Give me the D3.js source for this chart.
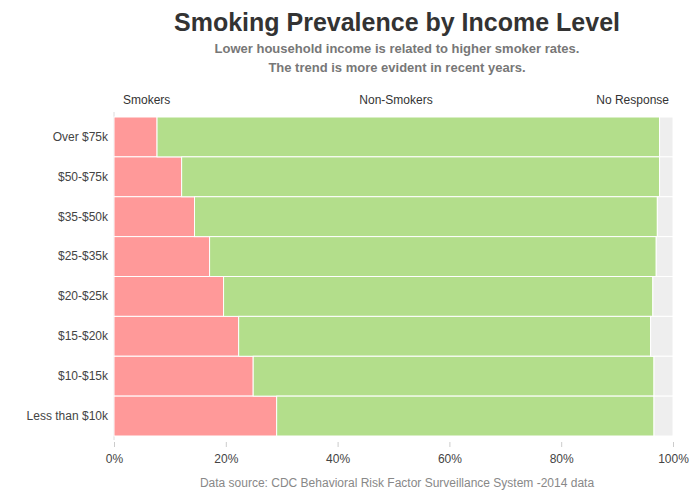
<!DOCTYPE html>
<html>
<head>
<meta charset="utf-8">
<script src="https://cdn.jsdelivr.net/npm/d3@7"></script>
<style>
    body { margin: 0; background: #fff; }
    text { font-family: Arial, "Liberation Sans", sans-serif; }
</style>
</head>
<body>
<div id="graph"></div>
<script>
// Income groups, top to bottom
var incomeGroups = [ 'Over $75k', '$50-$75k', '$35-$50k', '$25-$35k',
                     '$20-$25k', '$15-$20k', '$10-$15k', 'Less than $10k' ];

// Percentages
var smokers     = [ 7.7, 12.1, 14.4, 17.1, 19.6, 22.3, 24.9, 29.1 ];
var nonSmokers  = [ 89.9, 85.5, 82.8, 79.9, 76.8, 73.7, 71.7, 67.5 ];
var noResponse  = [ 2.4, 2.4, 2.8, 3.0, 3.6, 4.0, 3.4, 3.4 ];

var seriesNames  = [ 'Smokers', 'Non-Smokers', 'No Response' ];
var seriesColors = [ '#ff9999', '#b3de8b', '#eeeeee' ];
var xTicks       = [ 0, 20, 40, 60, 80, 100 ];

function D3App ()
{
    var width  = 700;
    var height = 500;
    var margin = { top: 117, right: 27, bottom: 64, left: 114 };
    var innerW = width  - margin.left - margin.right;
    var innerH = height - margin.top  - margin.bottom;

    var svg = d3.select ('#graph')
                .append ('svg')
                .attr ('width', width)
                .attr ('height', height);

    var g = svg.append ('g')
               .attr ('transform', 'translate(' + margin.left + ',' + margin.top + ')');

    var xScale = d3.scaleLinear ()
                   .domain ([ 0, 100 ])
                   .range ([ 0, innerW ]);

    var yScale = d3.scaleBand ()
                   .domain (incomeGroups)
                   .range ([ 0, innerH ])
                   .padding (0);

    // Build stacked rows
    var rows = incomeGroups.map (function (grp, i)
    {
        return { group: grp, 'Smokers': smokers[i], 'Non-Smokers': nonSmokers[i], 'No Response': noResponse[i] };
    });

    var stack = d3.stack ().keys (seriesNames) (rows);

    // left axis line
    g.append ('line')
     .attr ('x1', 0).attr ('x2', 0)
     .attr ('y1', -5).attr ('y2', innerH + 4)
     .style ('stroke', '#dcdcdc')
     .style ('stroke-width', 1);

    g.selectAll ('.series')
     .data (stack)
     .enter ()
     .append ('g')
     .attr ('class', 'series')
     .style ('fill', function (d, i) { return seriesColors[i]; })
     .selectAll ('rect')
     .data (function (d) { return d; })
     .enter ()
     .append ('rect')
     .attr ('x', function (d) { return xScale (d[0]); })
     .attr ('y', function (d) { return yScale (d.data.group); })
     .attr ('width', function (d) { return xScale (d[1]) - xScale (d[0]); })
     .attr ('height', yScale.bandwidth ())
     .style ('stroke', '#fff')
     .style ('stroke-width', 1);

    // X axis
    var xAxis = d3.axisBottom (xScale)
                  .tickValues (xTicks)
                  .tickSize (5)
                  .tickFormat (function (d) { return d + '%'; });

    var xg = g.append ('g')
              .attr ('transform', 'translate(0,' + (innerH + 6) + ')')
              .call (xAxis);
    xg.select ('.domain').remove ();
    xg.selectAll ('line').style ('stroke', '#cccccc');
    xg.selectAll ('text')
      .attr ('dy', '1.05em')
      .style ('font-size', '12px')
      .style ('fill', '#444');

    // Y axis labels
    var yAxis = d3.axisLeft (yScale).tickSize (0).tickPadding (6);
    var yg = g.append ('g').call (yAxis);
    yg.select ('.domain').remove ();
    yg.selectAll ('text')
      .style ('font-size', '12px')
      .style ('fill', '#444');

    // Column headers
    var headerY = margin.top - 13;
    svg.append ('text').attr ('x', 123).attr ('y', headerY)
       .style ('font-size', '12px').style ('fill', '#333')
       .text (seriesNames[0]);
    svg.append ('text').attr ('x', 396).attr ('y', headerY)
       .attr ('text-anchor', 'middle')
       .style ('font-size', '12px').style ('fill', '#333')
       .text (seriesNames[1]);
    svg.append ('text').attr ('x', 669).attr ('y', headerY)
       .attr ('text-anchor', 'end')
       .style ('font-size', '12px').style ('fill', '#333')
       .text (seriesNames[2]);

    // Titles
    svg.append ('text').attr ('x', 397).attr ('y', 31)
       .attr ('text-anchor', 'middle')
       .style ('font-size', '25px').style ('font-weight', 'bold').style ('fill', '#333')
       .text ('Smoking Prevalence by Income Level');

    svg.append ('text').attr ('x', 397).attr ('y', 53)
       .attr ('text-anchor', 'middle')
       .style ('font-size', '13px').style ('font-weight', 'bold').style ('fill', '#777')
       .text ('Lower household income is related to higher smoker rates.');

    svg.append ('text').attr ('x', 397).attr ('y', 72)
       .attr ('text-anchor', 'middle')
       .style ('font-size', '13px').style ('font-weight', 'bold').style ('fill', '#777')
       .text ('The trend is more evident in recent years.');

    svg.append ('text').attr ('x', 397).attr ('y', 487)
       .attr ('text-anchor', 'middle')
       .style ('font-size', '12px').style ('fill', '#888')
       .text ('Data source: CDC Behavioral Risk Factor Surveillance System -2014 data');
}

D3App ();
</script>
</body>
</html>
